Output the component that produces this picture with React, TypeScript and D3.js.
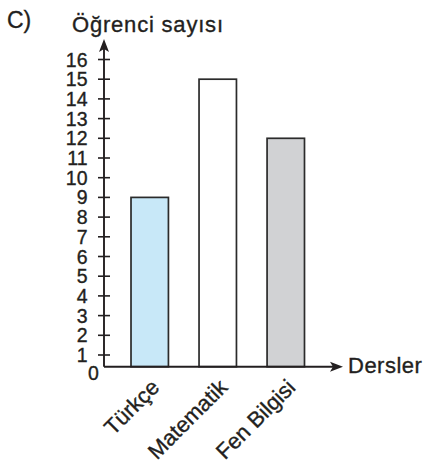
import React from "react";
import * as d3 from "d3";

const categories = ["Türkçe", "Matematik", "Fen Bilgisi"];
const values = [9, 15, 12];
const barColors = ["#c8e8f8", "#ffffff", "#d1d2d4"];
const tickValues = [1, 2, 3, 4, 5, 6, 7, 8, 9, 10, 11, 12, 13, 14, 15, 16];
const yTitle = "Öğrenci sayısı";
const xTitle = "Dersler";
const panelLabel = "C)";

const W = 427;
const H = 468;
const axisX = 104;
const axisY = 366.7;
const font = "'Liberation Sans', Arial, sans-serif";
const ink = "#231f20";
const textStroke = { stroke: ink, strokeWidth: 0.35 };

export default function App() {
  const y = d3.scaleLinear().domain([1, 16]).range([355, 59.5]);
  const x = d3
    .scaleBand<string>()
    .domain(categories)
    .range([axisX, 331.5])
    .paddingInner(0.45)
    .paddingOuter(0.397);

  const xArrowTip = 343;
  const yArrowTip = 39;

  return (
    <svg
      width={W}
      height={H}
      style={{ position: "absolute", left: 0, top: 0, background: "#fff" }}
      fontFamily={font}
    >
      <rect x={0} y={0} width={W} height={H} fill="#fff" />
      <text x={7} y={28} fontSize={23} fill={ink} {...textStroke}>
        {panelLabel}
      </text>
      <text x={72} y={32} fontSize={22} fill={ink} letterSpacing={0.8} {...textStroke}>
        {yTitle}
      </text>

      {/* bars */}
      {categories.map((c, i) => (
        <rect
          key={c}
          x={x(c)}
          y={y(values[i])}
          width={x.bandwidth()}
          height={axisY - y(values[i])}
          fill={barColors[i]}
          stroke="#2b2b2b"
          strokeWidth={1.7}
        />
      ))}

      {/* y axis */}
      <line x1={axisX} x2={axisX} y1={axisY} y2={yArrowTip + 8} stroke={ink} strokeWidth={1.9} />
      <path
        d={`M${axisX},${yArrowTip} L${axisX - 5},${yArrowTip + 13} L${axisX},${yArrowTip + 10} L${axisX + 5},${yArrowTip + 13} Z`}
        fill={ink}
      />
      {tickValues.map((t) => (
        <g key={t}>
          <line x1={axisX - 6} x2={axisX + 6} y1={y(t)} y2={y(t)} stroke={ink} strokeWidth={1.6} />
          <text
            x={87.5}
            y={y(t) + 7}
            fontSize={19.5}
            textAnchor="end"
            fill={ink}
            {...textStroke}
          >
            {t}
          </text>
        </g>
      ))}
      <text x={93.5} y={380} fontSize={19.5} textAnchor="middle" fill={ink} {...textStroke}>
        0
      </text>

      {/* x axis */}
      <line x1={axisX} x2={xArrowTip - 8} y1={axisY} y2={axisY} stroke={ink} strokeWidth={1.9} />
      <path
        d={`M${xArrowTip},${axisY} L${xArrowTip - 13},${axisY - 5} L${xArrowTip - 10},${axisY} L${xArrowTip - 13},${axisY + 5} Z`}
        fill={ink}
      />
      <text x={348} y={372.5} fontSize={22} fill={ink} letterSpacing={0.5} {...textStroke}>
        {xTitle}
      </text>

      {/* category labels */}
      {categories.map((c) => {
        const cx = (x(c) as number) + x.bandwidth() / 2 + 11;
        const cy = axisY + 22;
        return (
          <text
            key={c}
            x={cx}
            y={cy}
            fontSize={22}
            textAnchor="end"
            fill={ink}
            transform={`rotate(-45 ${cx} ${cy})`}
            {...textStroke}
          >
            {c}
          </text>
        );
      })}
    </svg>
  );
}
